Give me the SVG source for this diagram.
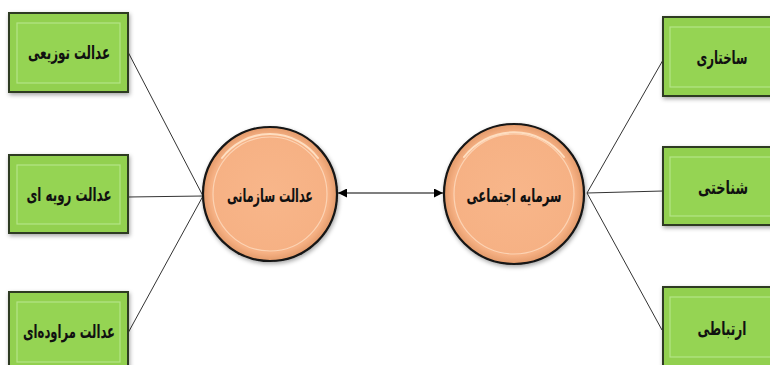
<svg xmlns="http://www.w3.org/2000/svg" width="770" height="365" viewBox="0 0 770 365">
<defs>
<style>
.box{fill:#92D050;stroke:#2f3b20;stroke-width:2}
.inner{fill:#95D453;stroke:#B5E488;stroke-width:1.2}
.lbl{font-family:"DejaVu Sans",sans-serif;font-weight:bold;font-size:19px;fill:#111;text-anchor:middle;dominant-baseline:central}
.ball{fill:url(#peach);stroke:#141414;stroke-width:2.2}
.ring{fill:none;stroke:#FCD3B4;stroke-width:1.2}
.hl{fill:none;stroke:#FFE3C8;stroke-width:2;stroke-linecap:round;opacity:0.9}
.conn{stroke:#333;stroke-width:1;fill:none}
</style>
<radialGradient id="peach" cx="0.5" cy="0.5" r="0.5">
<stop offset="0" stop-color="#F8B68A"/>
<stop offset="0.88" stop-color="#F6B184"/>
<stop offset="1" stop-color="#E39A6A"/>
</radialGradient>
<filter id="sh" x="-20%" y="-20%" width="140%" height="140%">
<feDropShadow dx="1" dy="2" stdDeviation="2" flood-color="#000" flood-opacity="0.35"/>
</filter>
<marker id="ah" viewBox="0 0 10 10" refX="10" refY="5" markerWidth="9" markerHeight="9" orient="auto-start-reverse" markerUnits="userSpaceOnUse">
<path d="M0,0 L10,5 L0,10 z" fill="#000"/>
</marker>
</defs>

<g id="connectors">
<line class="conn" x1="128" y1="52" x2="203" y2="196"/>
<line class="conn" x1="128" y1="197" x2="203" y2="196"/>
<line class="conn" x1="128" y1="333" x2="203" y2="196"/>
<line class="conn" x1="587" y1="193" x2="663" y2="60"/>
<line class="conn" x1="587" y1="193" x2="663" y2="191"/>
<line class="conn" x1="587" y1="193" x2="662" y2="330"/>
<line x1="338" y1="193" x2="443" y2="193" stroke="#000" stroke-width="1.2" marker-start="url(#ah)" marker-end="url(#ah)"/>
</g>

<g id="n-tozi">
<rect class="box" x="9" y="13" width="119" height="79" filter="url(#sh)"/>
<rect class="inner" x="17" y="23" width="103" height="60"/>
<text class="lbl" x="69" y="52" textLength="82" lengthAdjust="spacingAndGlyphs">عدالت توزیعی</text>
</g>
<g id="n-ravie">
<rect class="box" x="9" y="155" width="119" height="78" filter="url(#sh)"/>
<rect class="inner" x="17" y="165" width="103" height="59"/>
<text class="lbl" x="69" y="194" textLength="85" lengthAdjust="spacingAndGlyphs">عدالت رویه ای</text>
</g>
<g id="n-moraved">
<rect class="box" x="9" y="292" width="119" height="80" filter="url(#sh)"/>
<rect class="inner" x="17" y="302" width="103" height="60"/>
<text class="lbl" x="69" y="331" textLength="92" lengthAdjust="spacingAndGlyphs">عدالت مراوده‌ای</text>
</g>

<g id="n-sakhtari">
<rect class="box" x="663" y="17" width="120" height="79" filter="url(#sh)"/>
<rect class="inner" x="670" y="27" width="110" height="60"/>
<text class="lbl" x="722" y="57" textLength="51" lengthAdjust="spacingAndGlyphs">ساختاری</text>
</g>
<g id="n-shenakhti">
<rect class="box" x="663" y="147" width="120" height="78" filter="url(#sh)"/>
<rect class="inner" x="670" y="157" width="110" height="59"/>
<text class="lbl" x="723" y="187" textLength="50" lengthAdjust="spacingAndGlyphs">شناختی</text>
</g>
<g id="n-ertebati">
<rect class="box" x="663" y="287" width="120" height="80" filter="url(#sh)"/>
<rect class="inner" x="670" y="297" width="110" height="60"/>
<text class="lbl" x="722" y="328" textLength="49" lengthAdjust="spacingAndGlyphs">ارتباطی</text>
</g>

<g id="n-edalat">
<circle class="ball" cx="270" cy="194" r="67" filter="url(#sh)"/>
<circle class="ring" cx="270" cy="194" r="57"/>
<path class="hl" d="M222,158 A60,60 0 0 1 318,158"/>
<text class="lbl" x="270" y="195" textLength="86" lengthAdjust="spacingAndGlyphs">عدالت سازمانی</text>
</g>
<g id="n-sarmaye">
<circle class="ball" cx="514" cy="194" r="70" filter="url(#sh)"/>
<circle class="ring" cx="514" cy="194" r="60"/>
<path class="hl" d="M464,157 A63,63 0 0 1 564,157"/>
<text class="lbl" x="514" y="195" textLength="95" lengthAdjust="spacingAndGlyphs">سرمایه اجتماعی</text>
</g>
</svg>
